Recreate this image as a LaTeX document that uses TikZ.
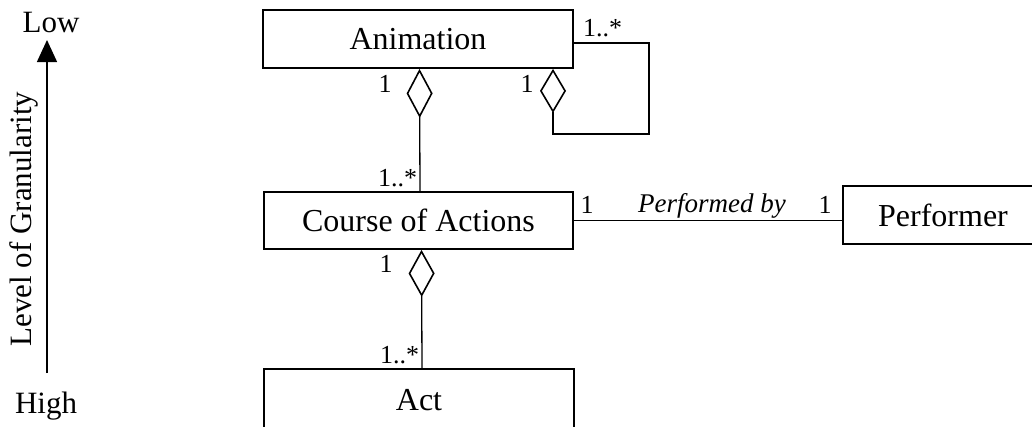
\documentclass[tikz,border=0pt]{standalone}
\usepackage{fontspec}
\setmainfont{Liberation Serif}
\usetikzlibrary{arrows.meta}
\begin{document}
\begin{tikzpicture}[x=1pt,y=-1pt,
  classbox/.style={draw, line width=1.8pt, rectangle, inner sep=0pt,
    font=\fontsize{32}{38}\selectfont},
  assoc/.style={line width=1.3pt},
  aggr/.style={line width=1.3pt,
    -{Diamond[open,length=#1,width=26pt,line width=1.6pt]}},
  aggr/.default=49pt,
  mult/.style={inner sep=0pt, anchor=base, font=\fontsize{26}{31}\selectfont},
  rolename/.style={inner sep=0pt, anchor=base, font=\fontsize{27}{32}\selectfont\itshape},
  axislabel/.style={inner sep=0pt, font=\fontsize{31}{37}\selectfont}]
\useasboundingbox (0,0) rectangle (1032,426);
\clip (0,0) rectangle (1032,426);

% classes
\node[classbox, minimum width=310pt, minimum height=58pt] (anim) at (418,39) {Animation};
\node[classbox, minimum width=309pt, minimum height=57pt] (course) at (418.5,220.5) {Course of Actions};
\node[classbox, minimum width=310pt, minimum height=62pt] (act) at (419,400) {Act};
\node[classbox, minimum width=200pt, minimum height=58pt] (perf) at (943,215) {Performer};

% aggregations
\draw[aggr] ([xshift=1.5pt]course.north) -- ([xshift=1.5pt]anim.south);
\draw[aggr=47pt] ([xshift=3pt]act.north) -- ([xshift=3pt]course.south);

% self aggregation of Animation
\coordinate (loopA) at (649,43);
\coordinate (loopB) at (649,134);
\coordinate (loopC) at (553,134);
\draw[aggr=44pt] (anim.east |- loopA) -- (loopA) -- (loopB) -- (loopC) -- (loopC |- anim.south);

% association to the performer
\draw[assoc] (course.east) -- (course.east -| perf.west);

% multiplicities and role name
\node[mult, anchor=base west] (m1) at (583,36) {1..*};
\node[mult] (m2) at (385,92) {1};
\node[mult] (m3) at (527,92) {1};
\node[mult, anchor=base west] (m4) at (378,186) {1..*};
\node[mult] (m5) at (386,272) {1};
\node[mult, anchor=base west] (m6) at (380,363) {1..*};
\node[mult] (m7) at (587,213) {1};
\node[mult] (m8) at (825,213) {1};
\node[rolename] (role) at (712,212) {Performed by};

% granularity axis
\node[axislabel, anchor=base] (low) at (51,32) {Low};
\node[axislabel, anchor=base] (high) at (46,413) {High};
\node[axislabel, rotate=90] (lvl) at (24,219) {Level of Granularity};
\coordinate (gbot) at (47,373);
\coordinate (gtop) at (47,40);
\draw[line width=1.4pt, -{Triangle[length=22pt,width=20pt]}] (gbot) -- (gtop);
\end{tikzpicture}
\end{document}
